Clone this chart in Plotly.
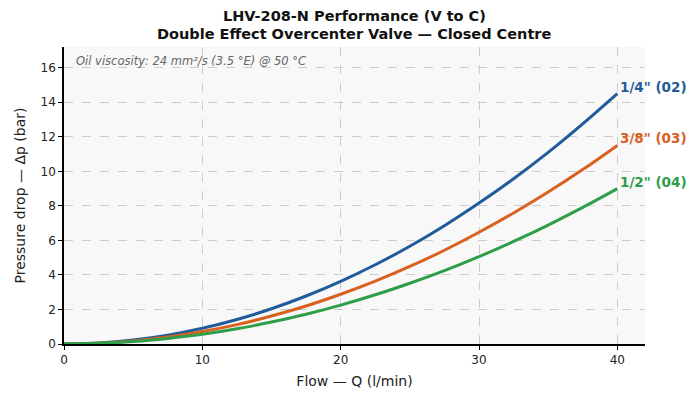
import plotly.graph_objects as go

# Flow (l/min) and pressure drop (bar)
flow = [0, 2.5, 5, 7.5, 10, 12.5, 15, 17.5, 20, 22.5, 25, 27.5, 30, 32.5, 35, 37.5, 40]
dp_02 = [0, 0.06, 0.23, 0.51, 0.91, 1.42, 2.04, 2.78, 3.63, 4.59, 5.66, 6.85, 8.16, 9.57, 11.1, 12.75, 14.5]
dp_03 = [0, 0.05, 0.18, 0.40, 0.72, 1.12, 1.62, 2.20, 2.88, 3.64, 4.49, 5.43, 6.47, 7.59, 8.80, 10.1, 11.5]
dp_04 = [0, 0.04, 0.14, 0.32, 0.56, 0.88, 1.27, 1.72, 2.25, 2.85, 3.52, 4.25, 5.06, 5.94, 6.89, 7.91, 9.0]

names = ['1/4" (02)', '3/8" (03)', '1/2" (04)']
colors = ["#1f5c99", "#d9601f", "#2e9e48"]
series = [dp_02, dp_03, dp_04]

font = "DejaVu Sans"
plot_h = 297

fig = go.Figure()
for name, ys, col in zip(names, series, colors):
    fig.add_trace(go.Scatter(x=flow, y=ys, mode="lines", name=name,
                             line=dict(color=col, width=3, shape="spline")))
    fig.add_annotation(x=flow[-1], y=ys[-1], text="<b>%s</b>" % name,
                       xanchor="left", yanchor="middle", xshift=1, yshift=7,
                       showarrow=False, font=dict(family=font, size=13.5, color=col))

fig.add_annotation(x=0.017, y=1 - 14 / plot_h, xref="paper", yref="paper",
                   text="<i>Oil viscosity: 24 mm²/s (3.5 °E) @ 50 °C</i>",
                   xanchor="left", yanchor="middle", showarrow=False,
                   font=dict(family=font, size=11.5, color="#666666"))

# two-line title as annotations above the plot
titles = ["LHV-208-N Performance (V to C)", "Double Effect Overcenter Valve — Closed Centre"]
for t, yc in zip(titles, [16, 34]):
    fig.add_annotation(x=0.5, y=1 + (47 - yc) / plot_h, xref="paper", yref="paper",
                       text="<b>%s</b>" % t, xanchor="center", yanchor="middle",
                       showarrow=False, font=dict(family=font, size=14.5, color="#111111"))

fig.update_layout(
    width=700, height=406,
    margin=dict(l=56, r=63, t=39, b=70),
    paper_bgcolor="white", plot_bgcolor="#f8f8f8",
    showlegend=False,
    font=dict(family=font, color="#222222"),
)
fig.update_xaxes(range=[0, 42], tickvals=[0, 10, 20, 30, 40], showline=True, linecolor="black",
                 linewidth=1.5, ticks="outside", ticklen=4, tickcolor="black",
                 showgrid=True, gridcolor="#cccccc", griddash="dash", gridwidth=0.8,
                 zeroline=False, tickfont=dict(size=12), automargin=False,
                 title=dict(text="Flow — Q (l/min)", font=dict(size=14), standoff=10))
fig.update_yaxes(range=[0, 17.2], tickvals=list(range(0, 17, 2)), showline=True, linecolor="black",
                 linewidth=1.5, ticks="outside", ticklen=4, tickcolor="black",
                 showgrid=True, gridcolor="#cccccc", griddash="dash", gridwidth=0.8,
                 zeroline=False, tickfont=dict(size=12), automargin=False,
                 title=dict(text="Pressure drop — Δp (bar)", font=dict(size=14), standoff=12))

fig.write_html("out.html")
